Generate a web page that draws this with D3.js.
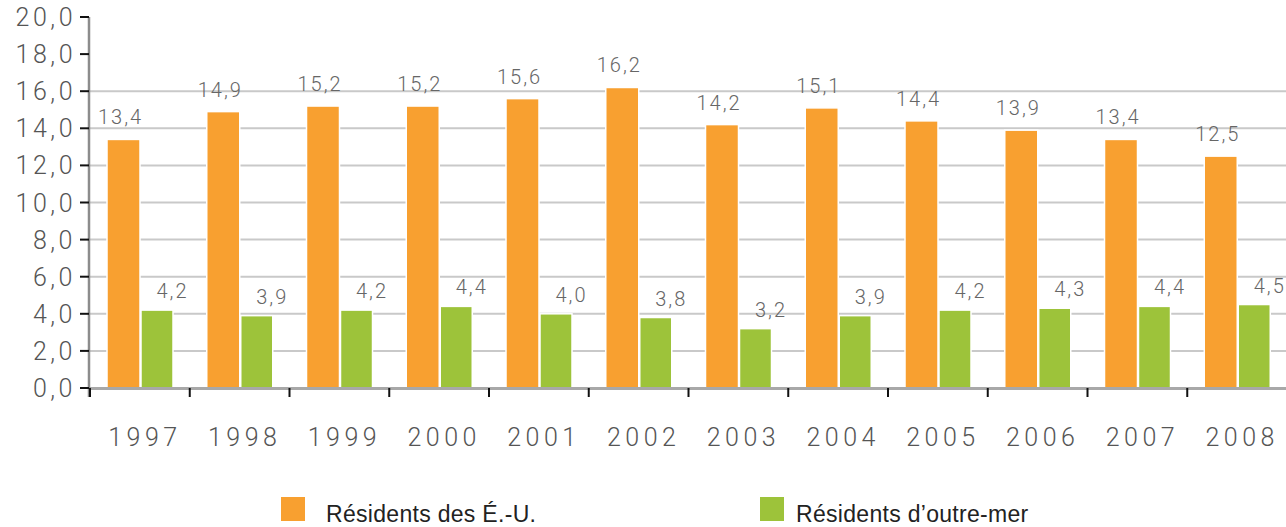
<!DOCTYPE html>
<html>
<head>
<meta charset="utf-8">
<script src="https://cdn.jsdelivr.net/npm/d3@7"></script>
<style>
  body { margin: 0; background: #fff; }
  svg { display: block; font-family: "Roboto", "Liberation Sans", sans-serif; }
</style>
</head>
<body>
<svg id="chart" width="1286" height="527"></svg>
<script>
// Data
const years = ["1997", "1998", "1999", "2000", "2001", "2002", "2003", "2004", "2005", "2006", "2007", "2008"];
const usResidents = [13.4, 14.9, 15.2, 15.2, 15.6, 16.2, 14.2, 15.1, 14.4, 13.9, 13.4, 12.5];
const overseasResidents = [4.2, 3.9, 4.2, 4.4, 4.0, 3.8, 3.2, 3.9, 4.2, 4.3, 4.4, 4.5];
const seriesNames = ["Résidents des É.-U.", "Résidents d\u2019outre-mer"];
const yTicks = [0, 2, 4, 6, 8, 10, 12, 14, 16, 18, 20];
const gridTicks = [2, 4, 6, 8, 10, 12, 14, 16];

const colors = ["#f8a030", "#9dc33a"];
const fmt = v => d3.format(".1f")(v).replace(".", ",");

const svg = d3.select("#chart");
const mLeft = 89, mRight = 1286, mTop = 17, mBottom = 388;

const x = d3.scaleBand().domain(years).range([mLeft, mRight]);
const y = d3.scaleLinear().domain([0, 20]).range([mBottom, mTop]);

// Gridlines
svg.append("g").selectAll("line")
    .data(gridTicks)
    .enter().append("line")
    .attr("x1", mLeft).attr("x2", mRight)
    .attr("y1", d => y(d)).attr("y2", d => y(d))
    .attr("stroke", "#c9c9c9")
    .attr("stroke-width", 2);

// Bars
const bw = x.bandwidth();
const barW = 33, gap = 1, offset = 18;
const groups = svg.append("g").selectAll("g")
    .data(years.map((yr, i) => ({ yr, us: usResidents[i], ov: overseasResidents[i] })))
    .enter().append("g")
    .attr("transform", d => `translate(${x(d.yr)},0)`);

groups.append("rect")
    .attr("x", offset)
    .attr("y", d => y(d.us))
    .attr("width", barW)
    .attr("height", d => mBottom - y(d.us))
    .attr("fill", colors[0])
    .attr("stroke", "#fff").attr("stroke-width", 1.5);

groups.append("rect")
    .attr("x", offset + barW + gap)
    .attr("y", d => y(d.ov))
    .attr("width", barW - 1)
    .attr("height", d => mBottom - y(d.ov))
    .attr("fill", colors[1])
    .attr("stroke", "#fff").attr("stroke-width", 1.5);

// Value labels
groups.append("text")
    .attr("x", offset + barW / 2 - 3)
    .attr("y", d => y(d.us) - 15)
    .attr("text-anchor", "middle")
    .attr("fill", "#666")
    .style("font-size", "20px")
    .style("font-weight", 300)
    .style("letter-spacing", "2px")
    .text(d => fmt(d.us));

groups.append("text")
    .attr("x", offset + barW + gap + barW / 2 + 15)
    .attr("y", d => y(d.ov) - 12)
    .attr("text-anchor", "middle")
    .attr("fill", "#666")
    .style("font-size", "20px")
    .style("font-weight", 300)
    .style("letter-spacing", "2px")
    .text(d => fmt(d.ov));

// Baseline
svg.append("line")
    .attr("x1", mLeft).attr("x2", mRight)
    .attr("y1", mBottom + 0.5).attr("y2", mBottom + 0.5)
    .attr("stroke", "#a8a8a8").attr("stroke-width", 3);

// Y axis line
svg.append("line")
    .attr("x1", mLeft).attr("x2", mLeft)
    .attr("y1", mTop).attr("y2", mBottom + 9)
    .attr("stroke", "#8c8c8c").attr("stroke-width", 2.5);

// Y ticks + labels
const yAx = svg.append("g");
yAx.selectAll("line")
    .data(yTicks)
    .enter().append("line")
    .attr("x1", 80).attr("x2", mLeft)
    .attr("y1", d => y(d)).attr("y2", d => y(d))
    .attr("stroke", "#111").attr("stroke-width", 2);
yAx.selectAll("text")
    .data(yTicks)
    .enter().append("text")
    .attr("x", 76)
    .attr("y", d => y(d))
    .attr("dy", "0.36em")
    .attr("text-anchor", "end")
    .attr("fill", "#555")
    .style("font-size", "25px")
    .style("font-weight", 300)
    .style("letter-spacing", "3.5px")
    .text(d => fmt(d));

// X ticks at band boundaries
svg.append("g").selectAll("line")
    .data(years)
    .enter().append("line")
    .attr("x1", d => x(d) + 1).attr("x2", d => x(d) + 1)
    .attr("y1", mBottom).attr("y2", mBottom + 9)
    .attr("stroke", "#111").attr("stroke-width", 2);

// X labels
svg.append("g").selectAll("text")
    .data(years)
    .enter().append("text")
    .attr("x", d => x(d) + bw / 2 + 6)
    .attr("y", 446)
    .attr("text-anchor", "middle")
    .attr("fill", "#555")
    .style("font-size", "25px")
    .style("font-weight", 300)
    .style("letter-spacing", "4.5px")
    .text(d => d);

// Legend
const legendX = [281, 760];
const legend = svg.append("g").selectAll("g")
    .data(seriesNames)
    .enter().append("g")
    .attr("transform", (d, i) => `translate(${legendX[i]},497)`);
legend.append("rect")
    .attr("width", 24).attr("height", 24)
    .attr("fill", (d, i) => colors[i]);
legend.append("text")
    .attr("x", (d, i) => i === 0 ? 45 : 36)
    .attr("y", 25)
    .attr("fill", "#222")
    .style("font-family", "'Liberation Sans', sans-serif")
    .style("font-size", "23px")
    .style("letter-spacing", "0.3px")
    .text(d => d);
</script>
</body>
</html>
